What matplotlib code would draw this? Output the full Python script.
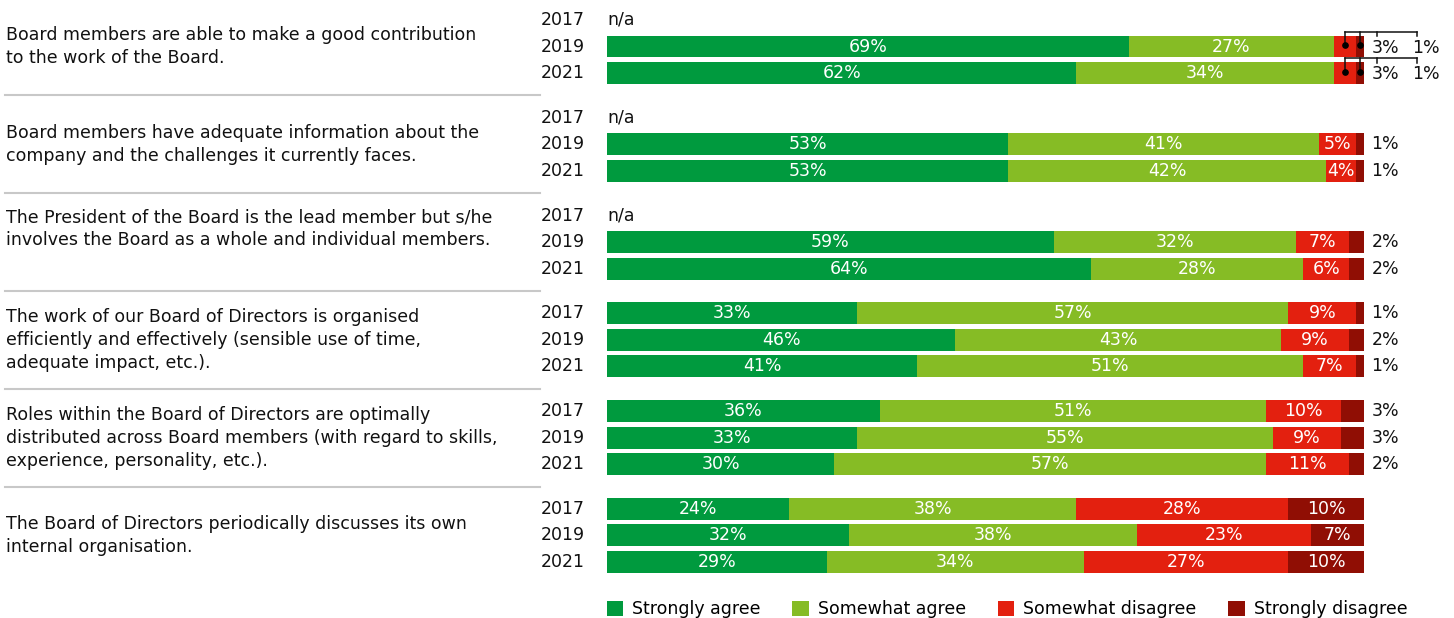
import matplotlib.pyplot as plt
from matplotlib.patches import Patch
from matplotlib import transforms

plt.rcParams['font.family'] = ['DejaVu Sans']

questions = [
    "Board members are able to make a good contribution\nto the work of the Board.",
    "Board members have adequate information about the\ncompany and the challenges it currently faces.",
    "The President of the Board is the lead member but s/he\ninvolves the Board as a whole and individual members.",
    "The work of our Board of Directors is organised\nefficiently and effectively (sensible use of time,\nadequate impact, etc.).",
    "Roles within the Board of Directors are optimally\ndistributed across Board members (with regard to skills,\nexperience, personality, etc.).",
    "The Board of Directors periodically discusses its own\ninternal organisation.",
]
years = ['2017', '2019', '2021']
categories = ['Strongly agree', 'Somewhat agree', 'Somewhat disagree', 'Strongly disagree']
colors = ['#009a3e', '#86bc25', '#e3200f', '#900e04']

# per question: values for 2017, 2019, 2021 (None = not asked that year)
strongly_agree = [[None, 69, 62], [None, 53, 53], [None, 59, 64],
                  [33, 46, 41], [36, 33, 30], [24, 32, 29]]
somewhat_agree = [[None, 27, 34], [None, 41, 42], [None, 32, 28],
                  [57, 43, 51], [51, 55, 57], [38, 38, 34]]
somewhat_disagree = [[None, 3, 3], [None, 5, 4], [None, 7, 6],
                     [9, 9, 7], [10, 9, 11], [28, 23, 27]]
strongly_disagree = [[None, 1, 1], [None, 1, 1], [None, 2, 2],
                     [1, 2, 1], [3, 3, 2], [10, 7, 10]]
series = [strongly_agree, somewhat_agree, somewhat_disagree, strongly_disagree]

W, H = 1454, 618
fig = plt.figure(figsize=(W / 100, H / 100), dpi=100)

# bar area spans 0-100% horizontally; y is measured in row units
row_px = 26.5
top_px = 20
ax = fig.add_axes([607 / W, 0, (1364 - 607) / W, 1])
ax.set_xlim(0, 100)
ax.set_ylim((H - top_px) / row_px, -top_px / row_px)
ax.axis('off')

fs = 12.5
ink = '#111111'
group_pitch = 3.69
bar_h = 0.83
label_tr = transforms.blended_transform_factory(fig.transFigure, ax.transData)

for g, question in enumerate(questions):
    base = g * group_pitch
    for r, year in enumerate(years):
        y = base + r
        ax.text(585 / W, y, year, transform=label_tr, ha='right', va='center',
                fontsize=fs, color=ink)
        vals = [s[g][r] for s in series]
        if vals[0] is None:
            ax.text(0, y, 'n/a', ha='left', va='center', fontsize=fs, color=ink)
            continue
        left = 0
        mids = []
        for v, c in zip(vals, colors):
            ax.barh(y, v, left=left, height=bar_h, color=c, edgecolor='none')
            mids.append(left + v / 2)
            left += v
        small = [i for i, v in enumerate(vals) if v < 4]
        for i, v in enumerate(vals):
            if v >= 4:
                ax.text(mids[i], y, f'{v}%', ha='center', va='center',
                        fontsize=fs, color='white')
        if len(small) >= 2:
            # bracket leaders for two tiny segments side by side
            tick_x = [101.7, 107.0]
            top = y - 0.55
            for k, i in enumerate(small):
                ax.plot([mids[i], mids[i]], [y - 0.05, top], color=ink,
                        lw=1.1, clip_on=False)
                ax.plot(mids[i], y - 0.05, 'o', color='black', ms=3.8, clip_on=False)
                ax.plot([tick_x[k], tick_x[k]], [top, y - 0.38], color=ink,
                        lw=1.1, clip_on=False)
                ax.text(tick_x[k] - 0.7, y + 0.05, f'{vals[i]}%', ha='left',
                        va='center', fontsize=fs, color=ink)
            ax.plot([mids[small[0]], tick_x[-1]], [top, top], color=ink,
                    lw=1.1, clip_on=False)
        else:
            for i in small:
                ax.text(101.0, y, f'{vals[i]}%', ha='left', va='center',
                        fontsize=fs, color=ink)

    # the two-line statements sit beside the middle row; the third one a bit higher
    text_y = base + (0.5 if g == 2 else 1)
    ax.text(6 / W, text_y, question, transform=label_tr, ha='left', va='center',
            fontsize=fs, color=ink, linespacing=1.35)
    if g < len(questions) - 1:
        sep = base + 2 + (group_pitch - 2) / 2
        ax.plot([5 / W, 540 / W], [sep, sep], transform=label_tr, color='#c8c8c8',
                lw=1.5, clip_on=False)

handles = [Patch(facecolor=c, edgecolor='none') for c in colors]
fig.legend(handles, categories, loc='lower left', bbox_to_anchor=(591 / W, -0.026),
           ncol=4, frameon=False, fontsize=fs, handlelength=0.95, handleheight=1.0,
           handletextpad=0.5, columnspacing=1.85)

fig.savefig('out.png', dpi=100)
